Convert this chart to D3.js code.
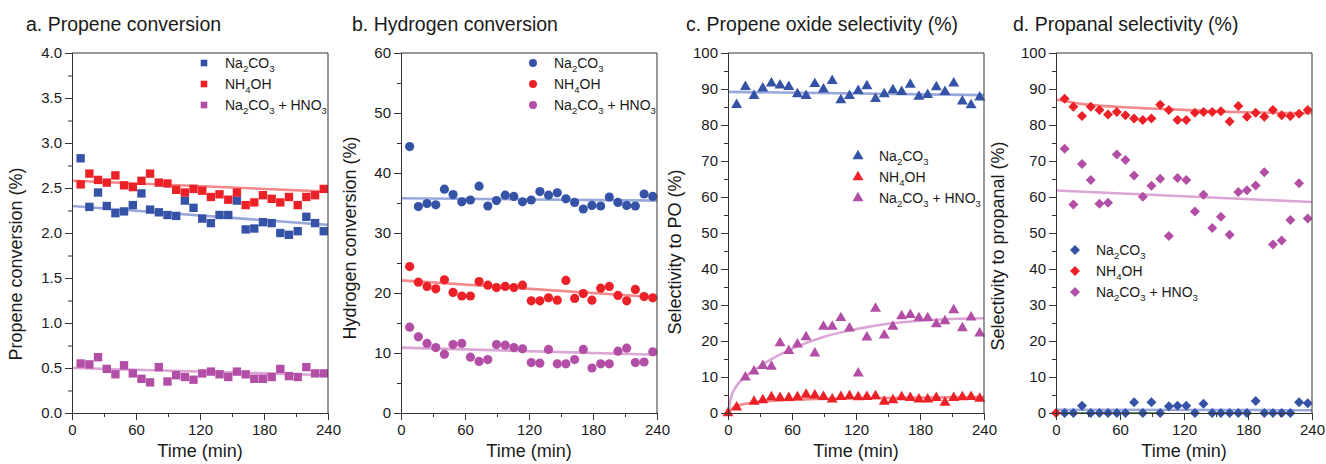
<!DOCTYPE html>
<html><head><meta charset="utf-8">
<script src="https://cdn.jsdelivr.net/npm/d3@7"></script>
<style>
body{margin:0;background:#fff;}
svg{font-family:"Liberation Sans",Arial,sans-serif;}
</style></head>
<body><svg id="c" width="1326" height="464"></svg>
<script>
// ---------- DATA ----------
const times = [0, 8.1, 16.3, 24.4, 32.6, 40.7, 48.8, 57.0, 65.1, 73.2, 81.4, 89.5, 97.7, 105.8, 113.9,
  122.1, 130.2, 138.3, 146.5, 154.6, 162.8, 170.9, 179.0, 187.2, 195.3, 203.4, 211.6, 219.7, 227.9, 236.0];

const seriesNames = ["Na2CO3", "NH4OH", "Na2CO3 + HNO3"];

// a. Propene conversion (%)
const aNa  = [null, 2.83,2.29,2.45,2.30,2.22,2.24,2.31,2.44,2.26,2.23,2.20,2.19,2.36,2.28,2.16,2.11,2.20,2.20,2.36,2.04,2.05,2.12,2.11,2.00,1.98,2.02,2.18,2.11,2.02];
const aNH  = [null, 2.54,2.66,2.59,2.56,2.64,2.53,2.51,2.58,2.66,2.56,2.55,2.48,2.45,2.49,2.47,2.40,2.43,2.37,2.45,2.31,2.34,2.42,2.38,2.34,2.40,2.31,2.40,2.42,2.49];
const aMix = [null, 0.55,0.54,0.62,0.49,0.43,0.53,0.44,0.38,0.34,0.51,0.35,0.42,0.40,0.37,0.44,0.46,0.43,0.40,0.46,0.43,0.38,0.38,0.40,0.49,0.41,0.40,0.51,0.44,0.44];
const aFitNa  = [[0,2.30],[240,2.09]];
const aFitNH  = [[0,2.58],[240,2.46]];
const aFitMix = [[0,0.50],[240,0.42]];

// b. Hydrogen conversion (%)
const bNa  = [null, 44.4,34.4,34.9,34.7,37.3,36.4,35.2,35.5,37.8,34.5,35.4,36.3,36.1,35.2,35.5,36.9,36.3,36.7,35.7,35.1,34.0,34.6,34.5,36.0,35.1,34.6,34.5,36.5,36.1];
const bNH  = [null, 24.4,21.8,21.1,20.7,22.2,20.1,19.5,19.5,21.9,21.3,20.9,21.1,20.9,21.3,18.7,18.7,19.2,18.8,22.1,19.1,19.9,18.8,20.8,21.1,19.6,18.7,20.6,19.4,19.2];
const bMix = [null, 14.3,12.7,11.6,10.9,9.8,11.4,11.6,9.3,8.6,8.9,11.4,11.3,10.9,10.7,8.4,8.3,10.6,8.2,8.2,8.9,10.6,7.5,8.2,8.2,10.3,10.8,8.4,8.5,10.2];
const bFitNa  = [[0,35.8],[240,35.4]];
const bFitNH  = [[0,22.1],[240,19.3]];
const bFitMix = [[0,10.9],[240,9.7]];

// c. Propene oxide selectivity (%)
const cNa  = [null, 85.6,90.6,88.1,90.2,91.6,91.0,90.6,88.6,88.1,91.4,89.9,92.3,86.9,88.1,89.5,90.8,87.3,88.6,89.7,89.2,91.2,87.9,88.4,90.5,89.2,91.6,86.6,85.5,87.7];
const cNH  = [0, 1.6, null, 3.2,3.6,4.4,4.2,4.2,4.4,5.1,4.9,4.5,3.8,4.5,4.7,4.4,4.5,4.7,3.2,3.6,4.4,4.2,3.8,3.8,4.2,2.9,4.2,4.4,4.5,4.0];
const cMix = [null, null, 9.9,11.6,13.1,12.9,19.4,17.3,19.1,21.1,16.6,24.0,24.0,26.4,23.5,11.0,21.0,29.0,21.6,24.0,26.9,27.3,26.4,26.4,24.7,25.5,28.6,23.6,26.6,22.1];
const cFitNa  = [[0,89.2],[240,88.3]];
const cFitNH  = [[0,0],[4,1.3],[11,2.2],[24,2.9],[55,3.6],[117,4.1],[240,4.4]];
const cFitMix = [[0,0],[3,4.5],[8,7.5],[16,10.0],[25,12.0],[40,14.8],[60,17.8],[90,21.2],[120,23.3],[150,24.8],[180,25.6],[210,26.1],[240,26.3]];

// d. Propanal selectivity (%)
const dNa  = [null, 0,0,2.0,0,0,0,0,0,3.0,0,3.0,0,1.9,2.0,2.0,0,2.6,0,0,0,0,0,3.3,0,0,0,0,3.0,2.7];
const dNH  = [0, 87.3,85.1,82.5,85.1,84.2,82.9,83.6,82.7,81.8,81.4,81.8,85.6,84.2,81.4,81.4,83.4,83.6,83.6,83.8,81.0,85.3,82.3,83.4,82.3,84.2,82.7,82.5,83.1,84.2];
const dMix = [null, 73.4,57.9,69.2,64.7,58.1,58.4,71.8,70.3,66.0,60.1,63.1,65.1,49.2,65.3,64.7,56.0,60.6,51.4,54.5,49.5,61.4,61.9,63.2,66.9,46.8,47.9,53.6,63.8,54.0];
const dFitNa  = [[0,0.9],[240,0.8]];
const dFitGreen = [[0,0],[95,0]];
const dFitNH  = [[0,87.1],[26,85.8],[60,85.0],[88,84.6],[120,84.2],[169,83.6],[240,83.3]];
const dFitMix = [[0,61.8],[240,58.6]];

const xTicks = [0, 60, 120, 180, 240];
const yTicksA = [0,0.5,1,1.5,2,2.5,3,3.5,4];
const yTicksB = [0,10,20,30,40,50,60];
const yTicksCD = [0,10,20,30,40,50,60,70,80,90,100];

// ---------- STYLE ----------
const colors = ["#3553a6", "#ec2127", "#b24ea6"];
const fitColors = ["#98a8da", "#f3898b", "#dba6d5"];

const svg = d3.select("#c");
const W = 256, H = 360, TOP = 53;

const panels = [
  {left:72, title:"a. Propene conversion", titleX:26, ylab:"Propene conversion (%)", ylabOff:50, ylabY:264,
   yMax:4, ticks:yTicksA, minor:0.25, fmt:d3.format(".1f"), data:[aNa,aNH,aMix], fits:[aFitNa,aFitNH,aFitMix],
   sym:d3.symbolSquare, size:70, rot:0, lsize:44, legend:{x:204, y:63, dy:21}},
  {left:401, title:"b. Hydrogen conversion", titleX:352, ylab:"Hydrogen conversion (%)", ylabOff:45, ylabY:238,
   yMax:60, ticks:yTicksB, minor:5, fmt:d3.format("d"), data:[bNa,bNH,bMix], fits:[bFitNa,bFitNH,bFitMix],
   sym:d3.symbolCircle, size:66, rot:0, lsize:50, legend:{x:533, y:63, dy:21}},
  {left:728, title:"c. Propene oxide selectivity (%)", titleX:686, ylab:"Selectivity to PO (%)", ylabOff:47, ylabY:252,
   yMax:100, ticks:yTicksCD, minor:5, fmt:d3.format("d"), data:[cNa,cNH,cMix], fits:[cFitNa,cFitNH,cFitMix],
   sym:d3.symbolTriangle, size:52, rot:0, lsize:52, legend:{x:858, y:156, dy:21}},
  {left:1056, title:"d. Propanal selectivity (%)", titleX:1013, ylab:"Selectivity to propanal (%)", ylabOff:52, ylabY:246,
   yMax:100, ticks:yTicksCD, minor:5, fmt:d3.format("d"), data:[dNa,dNH,dMix], fits:[dFitNa,dFitNH,dFitMix],
   extra:dFitGreen, sym:d3.symbolSquare, size:50, rot:45, lsize:50, legend:{x:1075, y:250, dy:21}}
];

function legendLabel(t, name){
  const sub = (s)=>{ t.append("tspan").text(s).attr("font-size",9.5).attr("dy",4); };
  const up = (s)=>{ t.append("tspan").text(s).attr("dy",-4); };
  if(name==="Na2CO3"){
    t.append("tspan").text("Na"); sub("2"); up("CO"); sub("3");
  } else if(name==="NH4OH"){
    t.append("tspan").text("NH"); sub("4"); up("OH");
  } else {
    t.append("tspan").text("Na"); sub("2"); up("CO"); sub("3"); up(" + HNO"); sub("3");
  }
}

panels.forEach(p => {
  const g = svg.append("g");
  const x = d3.scaleLinear().domain([0,240]).range([p.left, p.left+W]);
  const y = d3.scaleLinear().domain([0,p.yMax]).range([TOP+H, TOP]);

  // title
  g.append("text").attr("x", p.titleX).attr("y", 31).attr("font-size", 19.5).attr("fill","#1a1a1a").text(p.title);

  // fits
  const line = d3.line().x(d=>x(d[0])).y(d=>y(d[1])).curve(d3.curveMonotoneX);
  p.fits.forEach((f,i)=>{
    g.append("path").attr("d", line(f)).attr("fill","none").attr("stroke", fitColors[i]).attr("stroke-width",2.6);
  });
  if(p.extra){
    g.append("path").attr("d", line(p.extra)).attr("fill","none").attr("stroke","#2f7d3a").attr("stroke-width",1.6);
  }

  // points
  const sym = d3.symbol().type(p.sym).size(p.size);
  p.data.forEach((arr,i)=>{
    const pts = arr.map((v,k)=>({t:times[k], v})).filter(d=>d.v!==null);
    g.append("g").selectAll("path").data(pts).join("path")
      .attr("d", sym)
      .attr("transform", d=>`translate(${x(d.t)},${y(d.v)}) rotate(${p.rot})`)
      .attr("fill", colors[i]);
  });

  // axes
  const xAxis = d3.axisBottom(x).tickValues(xTicks).tickSize(7).tickPadding(4).tickFormat(d3.format("d"));
  const xMinor = d3.axisBottom(x).tickValues(d3.range(30,240,60)).tickSize(4).tickFormat("");
  const yAxis = d3.axisLeft(y).tickValues(p.ticks).tickSize(7).tickPadding(3).tickFormat(p.fmt);
  const yMinorVals = d3.range(p.minor, p.yMax, p.minor*2);
  const yMinor = d3.axisLeft(y).tickValues(yMinorVals).tickSize(4).tickFormat("");

  const gx = g.append("g").attr("transform",`translate(0,${TOP+H})`).call(xAxis);
  g.append("g").attr("transform",`translate(0,${TOP+H})`).call(xMinor);
  const gy = g.append("g").attr("transform",`translate(${p.left},0)`).call(yAxis);
  g.append("g").attr("transform",`translate(${p.left},0)`).call(yMinor);
  g.selectAll(".domain").attr("stroke","#333");
  g.selectAll(".tick line").attr("stroke","#333");
  gx.selectAll("text").attr("font-size",15).attr("fill","#1a1a1a").attr("font-family","Liberation Sans, Arial, sans-serif");
  gy.selectAll("text").attr("font-size",15).attr("fill","#1a1a1a").attr("font-family","Liberation Sans, Arial, sans-serif");

  // frame top/right
  g.append("line").attr("x1",p.left).attr("x2",p.left+W).attr("y1",TOP).attr("y2",TOP).attr("stroke","#333");
  g.append("line").attr("x1",p.left+W).attr("x2",p.left+W).attr("y1",TOP).attr("y2",TOP+H).attr("stroke","#333");

  // axis titles
  g.append("text").attr("x", p.left+W/2).attr("y", 457).attr("text-anchor","middle")
    .attr("font-size",18).attr("fill","#1a1a1a").text("Time (min)");
  g.append("text").attr("transform",`translate(${p.left-p.ylabOff},${p.ylabY}) rotate(-90)`)
    .attr("text-anchor","middle").attr("font-size",18).attr("fill","#1a1a1a").text(p.ylab);

  // legend
  const lsym = d3.symbol().type(p.sym).size(p.lsize);
  seriesNames.forEach((n,i)=>{
    const ly = p.legend.y + i*p.legend.dy;
    g.append("path").attr("d", lsym).attr("transform",`translate(${p.legend.x},${ly}) rotate(${p.rot})`).attr("fill",colors[i]);
    const t = g.append("text").attr("x", p.legend.x+21).attr("y", ly+5).attr("font-size",14).attr("fill","#1a1a1a");
    legendLabel(t, n);
  });
});
</script>
</body></html>
